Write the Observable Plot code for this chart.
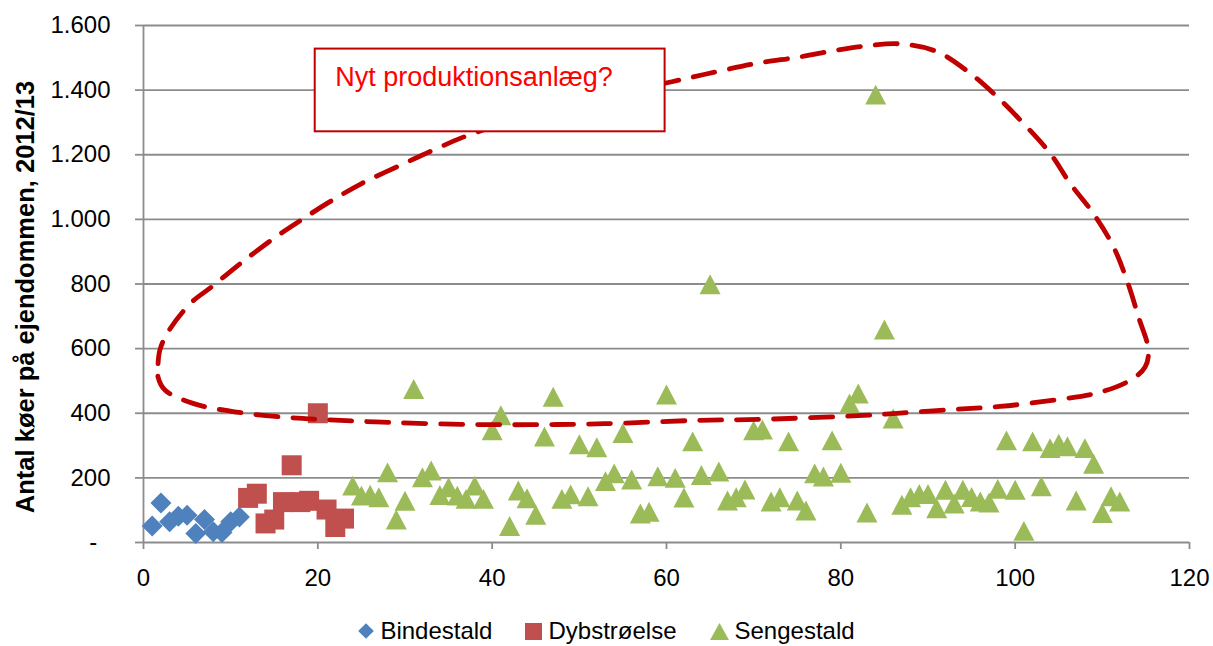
<!DOCTYPE html>
<html>
<head>
<meta charset="utf-8">
<script src="https://cdn.jsdelivr.net/npm/d3@7"></script>
<script src="https://cdn.jsdelivr.net/npm/@observablehq/plot@0.6"></script>
<style>
  html, body { margin: 0; padding: 0; background: #fff; }
  body { width: 1213px; height: 646px; position: relative; overflow: hidden;
         font-family: "Liberation Sans", Arial, sans-serif; color: #000; }
  #legend { position: absolute; left: 0; top: 619px; width: 1213px; height: 24px;
            display: flex; justify-content: center; align-items: center; gap: 33px;
            font-size: 24px; line-height: 24px; }
  #legend .item { display: flex; align-items: center; gap: 6px; }
  #ytitle { position: absolute; left: 25px; top: 297px; transform: translate(-50%, -50%) rotate(-90deg);
            font-weight: bold; font-size: 25.5px; line-height: 26px; white-space: nowrap; }
</style>
</head>
<body>
<div id="chart"></div>
<div id="ytitle">Antal køer på ejendommen, 2012/13</div>
<div id="legend"></div>
<script>
// ---- Data ----
const bindX = [1, 2, 3, 4, 5, 6, 7, 8, 9, 10, 11];
const bindY = [51, 122, 64, 81, 84, 28, 71, 33, 31, 64, 79];

const dybX = [12, 13, 14, 15, 16, 17, 18, 19, 20, 21, 22, 23];
const dybY = [138, 151, 59, 71, 125, 239, 125, 129, 400, 102, 48, 74];

const sengX = [24, 25, 26, 27, 28, 29, 30, 31, 32, 33, 34, 35, 36, 37, 38, 39, 40, 41, 42, 43,
  44, 45, 46, 47, 48, 49, 50, 51, 52, 53, 54, 55, 56, 57, 58, 59, 60, 61, 62, 63,
  64, 65, 66, 67, 68, 69, 70, 71, 72, 73, 74, 75, 76, 77, 78, 79, 80, 81, 82, 83,
  84, 85, 86, 87, 88, 89, 90, 91, 92, 93, 94, 95, 96, 97, 98, 99, 100, 101, 102, 103,
  104, 105, 106, 107, 108, 109, 110, 111, 112];
const sengY = [176, 145, 148, 140, 217, 71, 129, 475, 202, 223, 147, 171, 145, 135, 176, 135, 347, 394, 51, 161,
  137, 86, 328, 451, 135, 149, 304, 143, 295, 190, 214, 339, 195, 90, 95, 205, 458, 200, 139, 313,
  209, 799, 220, 130, 140, 164, 347, 350, 127, 140, 313, 130, 99, 214, 204, 316, 216, 430, 461, 93,
  1386, 659, 384, 117, 140, 150, 150, 106, 163, 121, 163, 141, 127, 124, 166, 316, 163, 36, 313, 174,
  292, 306, 298, 130, 292, 244, 91, 143, 127];

const seriesNames = ["Bindestald", "Dybstrøelse", "Sengestald"];
const xTicks = [0, 20, 40, 60, 80, 100, 120];
const yTicks = [0, 200, 400, 600, 800, 1000, 1200, 1400, 1600];

// Annotation: hand-drawn dashed loop (data coordinates)
const loopX = [1.67, 1.67, 1.87, 2.70, 5.36, 7.81, 11.09, 15.19, 18.06, 21.34, 25.02, 29.12, 33.22, 37.32, 48.95,
  60.62, 65.78, 70.37, 75.34, 79.55, 82.99, 86.81, 91.02, 94.84, 97.90, 100.95, 104.02, 106.31, 108.98,
  111.28, 112.81, 114.15, 115.29, 114.91, 113.19, 109.37, 104.78, 98.28, 92.54, 86.8, 82.6, 70.75,
  63.52, 52.89, 44.69, 36.49, 28.30, 20.92, 16.01, 10.68, 5.77, 2.49];
const loopY = [512, 553.6, 594.8, 646.5, 739.5, 791, 863, 946, 997.5, 1054, 1111, 1163, 1214, 1261, 1357,
  1426, 1457, 1483, 1503, 1524, 1537, 1543, 1519, 1452, 1380, 1297, 1204, 1111, 1018,
  915, 812, 698, 595, 543, 502, 462.5, 442, 421, 411, 400.5, 393.4, 381,
  378, 367.7, 364.6, 365.6, 371.7, 380, 388, 403.7, 429.7, 471];

// Annotation text box (data coordinates)
const noteText = ["Nyt produktionsanlæg?"];
const noteBoxX = [19.7, 59.84];
const noteBoxY = [1271, 1527];
const noteTextPos = [21.99, 1441];

// ---- Styles ----
const colors = ["#4f81bd", "#c0504d", "#9bbb59"];
const grid = "#8c8c8c";

const diamondSym = { draw(ctx, size) { const r = Math.sqrt(size / Math.PI);
  ctx.moveTo(0, -r); ctx.lineTo(r, 0); ctx.lineTo(0, r); ctx.lineTo(-r, 0); ctx.closePath(); } };
const squareSym = { draw(ctx, size) { const r = Math.sqrt(size / Math.PI);
  ctx.moveTo(-r, -r); ctx.lineTo(r, -r); ctx.lineTo(r, r); ctx.lineTo(-r, r); ctx.closePath(); } };
const triSym = { draw(ctx, size) { const r = Math.sqrt(size / Math.PI);
  ctx.moveTo(0, -r * 0.95); ctx.lineTo(r, r * 0.95); ctx.lineTo(-r, r * 0.95); ctx.closePath(); } };

const toPts = (xs, ys) => xs.map((x, i) => ({ x, y: ys[i] }));
const bind = toPts(bindX, bindY);
const dyb = toPts(dybX, dybY);
const seng = toPts(sengX, sengY);
const loop = toPts(loopX, loopY);

const fmtY = d => d === 0 ? "-\u2007" : d3.format(",")(d).replace(/,/g, ".");

const chart = Plot.plot({
  width: 1213,
  height: 600,
  marginLeft: 143,
  marginRight: 24,
  marginTop: 25,
  marginBottom: 58,
  style: { fontFamily: '"Liberation Sans", Arial, sans-serif', fontSize: "24px", color: "#000", background: "#fff", overflow: "visible" },
  x: { domain: [0, 120], label: null },
  y: { domain: [0, 1600], label: null },
  marks: [
    Plot.gridY(yTicks, { stroke: grid, strokeOpacity: 1, strokeWidth: 1.8 }),
    Plot.ruleX([0], { stroke: grid, strokeWidth: 1.8 }),
    Plot.axisY(yTicks, { tickSize: 8, tickPadding: 25, stroke: grid, strokeWidth: 1.8, fill: "#000", tickFormat: fmtY, fontSize: 24, label: null }),
    Plot.axisX(xTicks, { tickSize: 7, tickPadding: 19, stroke: grid, strokeWidth: 1.8, fill: "#000", fontSize: 24, label: null }),
    Plot.dot(bind, { x: "x", y: "y", symbol: diamondSym, r: 10.5, fill: colors[0] }),
    Plot.dot(dyb, { x: "x", y: "y", symbol: squareSym, r: 10, fill: colors[1] }),
    Plot.dot(seng, { x: "x", y: "y", symbol: triSym, r: 10.5, fill: colors[2] }),
    Plot.line(loop, { x: "x", y: "y", curve: "catmull-rom-closed", stroke: "#c00000", strokeWidth: 4.8, strokeDasharray: "22,15" }),
    Plot.rect(noteText, { x1: () => noteBoxX[0], x2: () => noteBoxX[1], y1: () => noteBoxY[0], y2: () => noteBoxY[1], fill: "#fff", stroke: "#c00000", strokeWidth: 2 }),
    Plot.text(noteText, { x: () => noteTextPos[0], y: () => noteTextPos[1], text: d => d, textAnchor: "start", lineAnchor: "middle", fill: "#ff0000", fontSize: 27 })
  ]
});
document.getElementById("chart").appendChild(chart);

// ---- Legend ----
const legendSyms = [
  '<svg width="16" height="16" viewBox="-8 -8 16 16"><path d="M0,-7.8L7.8,0L0,7.8L-7.8,0Z" fill="' + colors[0] + '"/></svg>',
  '<svg width="17" height="17" viewBox="-8.5 -8.5 17 17"><rect x="-8.5" y="-8.5" width="17" height="17" fill="' + colors[1] + '"/></svg>',
  '<svg width="19" height="17" viewBox="-9.5 -8.5 19 17"><path d="M0,-8.5L9.5,8.5L-9.5,8.5Z" fill="' + colors[2] + '"/></svg>'
];
const legend = document.getElementById("legend");
seriesNames.forEach((name, i) => {
  const item = document.createElement("div");
  item.className = "item";
  item.innerHTML = legendSyms[i] + "<span>" + name + "</span>";
  legend.appendChild(item);
});
</script>
</body>
</html>
